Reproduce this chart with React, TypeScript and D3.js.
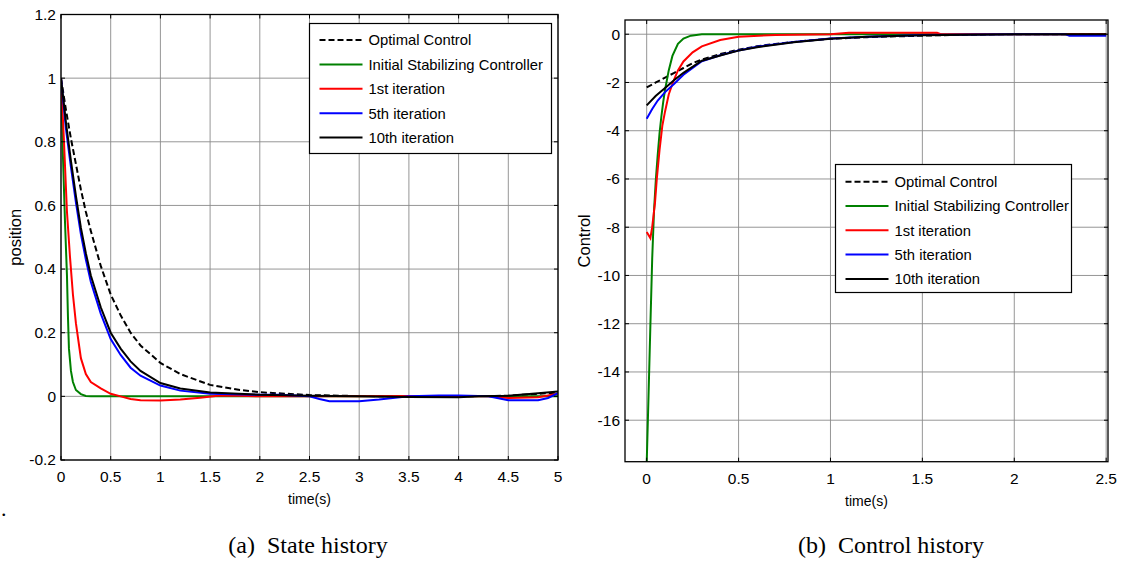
import React, { useEffect, useRef } from 'react';
import * as d3 from 'd3';

// (a) state history: position vs time(s)
const stateOptimalT = [0, 0.05, 0.1, 0.15, 0.2, 0.25, 0.3, 0.4, 0.5, 0.6, 0.7, 0.8, 1.0, 1.2, 1.5, 1.8, 2.0, 2.5, 3, 3.5, 4, 4.5, 5];
const stateOptimal = [1, 0.9, 0.81, 0.73, 0.65, 0.58, 0.52, 0.41, 0.32, 0.255, 0.2, 0.16, 0.105, 0.07, 0.036, 0.02, 0.013, 0.004, 0.001, 0, 0, 0.002, 0.012];
const stateInitialT = [0, 0.02, 0.04, 0.06, 0.07, 0.08, 0.1, 0.12, 0.15, 0.2, 0.25, 0.3, 5];
const stateInitial = [1, 0.75, 0.55, 0.38, 0.25, 0.15, 0.08, 0.045, 0.02, 0.007, 0.001, 0, 0];
const stateIter1T = [0, 0.03, 0.06, 0.09, 0.12, 0.15, 0.2, 0.25, 0.3, 0.4, 0.5, 0.6, 0.7, 0.8, 1.0, 1.2, 1.4, 1.6, 1.8, 2, 3, 3.5, 4, 4.3, 4.5, 4.8, 5];
const stateIter1 = [1, 0.8, 0.58, 0.44, 0.32, 0.23, 0.12, 0.07, 0.045, 0.025, 0.008, 0, -0.008, -0.012, -0.013, -0.01, -0.004, 0.003, 0.002, 0, 0, 0.001, 0, 0, -0.005, -0.003, 0.008];
const stateIter5T = [0, 0.05, 0.1, 0.15, 0.2, 0.25, 0.3, 0.4, 0.5, 0.6, 0.7, 0.8, 1.0, 1.2, 1.5, 2.0, 2.2, 2.5, 2.6, 2.7, 3.0, 3.2, 3.5, 3.8, 4.0, 4.3, 4.5, 4.8, 4.9, 5];
const stateIter5 = [1, 0.84, 0.72, 0.61, 0.51, 0.43, 0.36, 0.26, 0.18, 0.13, 0.09, 0.065, 0.034, 0.018, 0.008, 0.005, 0.005, 0, -0.008, -0.015, -0.015, -0.01, 0, 0.003, 0.003, 0, -0.012, -0.012, -0.005, 0.01];
const stateIter10T = [0, 0.05, 0.1, 0.15, 0.2, 0.25, 0.3, 0.4, 0.5, 0.6, 0.7, 0.8, 1.0, 1.2, 1.5, 2, 2.5, 3, 3.5, 4, 4.2, 4.5, 4.8, 5];
const stateIter10 = [1, 0.86, 0.74, 0.63, 0.53, 0.45, 0.38, 0.28, 0.2, 0.15, 0.11, 0.08, 0.042, 0.025, 0.012, 0.005, 0.002, 0, -0.002, -0.003, 0, 0.002, 0.01, 0.015];

// (b) control history: Control vs time(s)
const ctrlOptimalT = [0, 0.05, 0.1, 0.15, 0.2, 0.25, 0.3, 0.4, 0.5, 0.6, 0.7, 0.8, 0.9, 1.0, 1.2, 1.4, 1.6, 1.8, 1.9, 2.5];
const ctrlOptimal = [-2.2, -2.0, -1.8, -1.6, -1.4, -1.2, -1.05, -0.82, -0.64, -0.5, -0.4, -0.32, -0.25, -0.19, -0.12, -0.08, -0.04, -0.02, 0, 0];
const ctrlInitialT = [0, 0.01, 0.02, 0.03, 0.04, 0.05, 0.06, 0.07, 0.08, 0.09, 0.1, 0.12, 0.14, 0.17, 0.2, 0.24, 0.3, 2.5];
const ctrlInitial = [-17.8, -15.0, -12.1, -9.3, -7.3, -6.0, -5.0, -4.1, -3.4, -2.8, -2.3, -1.5, -0.9, -0.4, -0.18, -0.06, 0, 0];
const ctrlIter1T = [0, 0.02, 0.03, 0.045, 0.055, 0.07, 0.085, 0.1, 0.12, 0.145, 0.17, 0.2, 0.25, 0.3, 0.4, 0.5, 0.7, 1.0, 1.1, 1.58, 1.6, 2.5];
const ctrlIter1 = [-8.2, -8.45, -8.0, -7.0, -6.0, -4.8, -3.8, -3.2, -2.5, -1.95, -1.5, -1.13, -0.75, -0.5, -0.24, -0.1, -0.03, 0, 0.06, 0.06, 0, 0];
const ctrlIter5T = [0, 0.03, 0.06, 0.1, 0.15, 0.2, 0.3, 0.4, 0.5, 0.6, 0.8, 1.0, 1.2, 1.5, 2, 2.28, 2.3, 2.5];
const ctrlIter5 = [-3.5, -3.1, -2.75, -2.4, -2.05, -1.68, -1.12, -0.87, -0.67, -0.52, -0.32, -0.18, -0.1, -0.03, 0, 0, -0.06, -0.06];
const ctrlIter10T = [0, 0.05, 0.1, 0.15, 0.2, 0.3, 0.4, 0.5, 0.6, 0.8, 1.0, 1.2, 1.5, 2, 2.5];
const ctrlIter10 = [-2.95, -2.55, -2.23, -1.9, -1.6, -1.1, -0.88, -0.68, -0.54, -0.33, -0.19, -0.1, -0.04, 0, 0];

const legendNames = ['Optimal Control', 'Initial Stabilizing Controller', '1st iteration', '5th iteration', '10th iteration'];
const seriesColors = ['#000000', '#008000', '#ff0000', '#0000ff', '#000000'];

const stateXTicks = [0, 0.5, 1, 1.5, 2, 2.5, 3, 3.5, 4, 4.5, 5];
const stateYTicks = [-0.2, 0, 0.2, 0.4, 0.6, 0.8, 1, 1.2];
const ctrlXTicks = [0, 0.5, 1, 1.5, 2, 2.5];
const ctrlYTicks = [-16, -14, -12, -10, -8, -6, -4, -2, 0];

const FONT = '"Liberation Sans", Arial, sans-serif';

function drawPanel(svg, p) {
  const x = d3.scaleLinear().domain(p.xDomain).range([p.left, p.right]);
  const y = d3.scaleLinear().domain(p.yDomain).range([p.bottom, p.top]);
  const g = svg.append('g');

  g.append('clipPath').attr('id', p.id)
    .append('rect')
    .attr('x', p.left).attr('y', p.top)
    .attr('width', p.right - p.left).attr('height', p.bottom - p.top);

  g.append('rect')
    .attr('x', p.left).attr('y', p.top)
    .attr('width', p.right - p.left).attr('height', p.bottom - p.top)
    .attr('fill', '#fff');

  // grid
  g.selectAll('.gx').data(p.xTicks).enter().append('line')
    .attr('x1', (d) => x(d)).attr('x2', (d) => x(d))
    .attr('y1', p.top).attr('y2', p.bottom)
    .attr('stroke', '#8a8a8a').attr('stroke-width', 0.9);
  g.selectAll('.gy').data(p.yTicks).enter().append('line')
    .attr('x1', p.left).attr('x2', p.right)
    .attr('y1', (d) => y(d)).attr('y2', (d) => y(d))
    .attr('stroke', '#8a8a8a').attr('stroke-width', 0.9);

  // curves
  const line = d3.line().x((d) => x(d[0])).y((d) => y(d[1]));
  const curves = g.append('g').attr('clip-path', `url(#${p.id})`);
  p.series.forEach((s, i) => {
    curves.append('path')
      .attr('d', line(s.t.map((t, k) => [t, s.v[k]])))
      .attr('fill', 'none')
      .attr('stroke', seriesColors[i])
      .attr('stroke-width', 2)
      .attr('stroke-dasharray', i === 0 ? '6,3' : null);
  });

  // box + inward ticks
  g.append('rect')
    .attr('x', p.left).attr('y', p.top)
    .attr('width', p.right - p.left).attr('height', p.bottom - p.top)
    .attr('fill', 'none').attr('stroke', '#000').attr('stroke-width', 1.3);
  p.xTicks.forEach((d) => {
    g.append('line').attr('x1', x(d)).attr('x2', x(d)).attr('y1', p.bottom).attr('y2', p.bottom - 4).attr('stroke', '#000');
    g.append('line').attr('x1', x(d)).attr('x2', x(d)).attr('y1', p.top).attr('y2', p.top + 4).attr('stroke', '#000');
    g.append('text').attr('x', x(d)).attr('y', p.bottom + 22)
      .attr('text-anchor', 'middle').attr('font-family', FONT).attr('font-size', 15.5)
      .text(String(d));
  });
  p.yTicks.forEach((d) => {
    g.append('line').attr('x1', p.left).attr('x2', p.left + 4).attr('y1', y(d)).attr('y2', y(d)).attr('stroke', '#000');
    g.append('line').attr('x1', p.right).attr('x2', p.right - 4).attr('y1', y(d)).attr('y2', y(d)).attr('stroke', '#000');
    g.append('text').attr('x', p.left - 5).attr('y', y(d)).attr('dy', '0.35em')
      .attr('text-anchor', 'end').attr('font-family', FONT).attr('font-size', 15.5)
      .text(String(d));
  });

  // axis labels
  g.append('text')
    .attr('x', (p.left + p.right) / 2).attr('y', p.bottom + 44)
    .attr('text-anchor', 'middle').attr('font-family', FONT).attr('font-size', 14)
    .text('time(s)');
  g.append('text')
    .attr('transform', `translate(${p.yLabelX},${(p.top + p.bottom) / 2}) rotate(-90)`)
    .attr('text-anchor', 'middle').attr('font-family', FONT).attr('font-size', 16.5)
    .text(p.yLabel);

  // legend
  const L = p.legend;
  g.append('rect')
    .attr('x', L.x).attr('y', L.y).attr('width', L.w).attr('height', L.h)
    .attr('fill', '#fff').attr('stroke', '#000').attr('stroke-width', 1.2);
  legendNames.forEach((name, i) => {
    const ry = L.row0 + i * L.gap;
    g.append('line')
      .attr('x1', L.x + 10).attr('x2', L.x + 53).attr('y1', ry).attr('y2', ry)
      .attr('stroke', seriesColors[i]).attr('stroke-width', 2)
      .attr('stroke-dasharray', i === 0 ? '6,3' : null);
    g.append('text')
      .attr('x', L.x + 59).attr('y', ry).attr('dy', '0.36em')
      .attr('font-family', FONT).attr('font-size', 14.8)
      .text(name);
  });
}

export default function App() {
  const svgRef = useRef(null);

  useEffect(() => {
    const svg = d3.select(svgRef.current);
    svg.selectAll('*').remove();

    drawPanel(svg, {
      id: 'clipA',
      left: 61, right: 558, top: 14.5, bottom: 460,
      xDomain: [0, 5], yDomain: [-0.2, 1.2],
      xTicks: stateXTicks, yTicks: stateYTicks,
      yLabel: 'position', yLabelX: 21,
      series: [
        { t: stateOptimalT, v: stateOptimal },
        { t: stateInitialT, v: stateInitial },
        { t: stateIter1T, v: stateIter1 },
        { t: stateIter5T, v: stateIter5 },
        { t: stateIter10T, v: stateIter10 },
      ],
      legend: { x: 309.5, y: 23.5, w: 242, h: 130, row0: 40, gap: 24.4 },
    });

    drawPanel(svg, {
      id: 'clipB',
      left: 625, right: 1108, top: 20, bottom: 461.7,
      xDomain: [-0.118, 2.51], yDomain: [-17.72, 0.59],
      xTicks: ctrlXTicks, yTicks: ctrlYTicks,
      yLabel: 'Control', yLabelX: 590,
      series: [
        { t: ctrlOptimalT, v: ctrlOptimal },
        { t: ctrlInitialT, v: ctrlInitial },
        { t: ctrlIter1T, v: ctrlIter1 },
        { t: ctrlIter5T, v: ctrlIter5 },
        { t: ctrlIter10T, v: ctrlIter10 },
      ],
      legend: { x: 835.5, y: 164.5, w: 236, h: 128, row0: 181.7, gap: 24.3 },
    });

    svg.append('text').attr('x', 1).attr('y', 516)
      .attr('font-family', '"Liberation Serif", serif').attr('font-size', 22).text('.');
    svg.append('text').attr('x', 308).attr('y', 553).attr('text-anchor', 'middle')
      .attr('font-family', '"Liberation Serif", "Times New Roman", serif').attr('font-size', 24)
      .style('white-space', 'pre').text('(a)  State history');
    svg.append('text').attr('x', 891).attr('y', 553).attr('text-anchor', 'middle')
      .attr('font-family', '"Liberation Serif", "Times New Roman", serif').attr('font-size', 24)
      .style('white-space', 'pre').text('(b)  Control history');
  }, []);

  return (
    <svg ref={svgRef} width={1123} height={567}
      style={{ position: 'absolute', left: 0, top: 0, background: '#fff' }} />
  );
}
